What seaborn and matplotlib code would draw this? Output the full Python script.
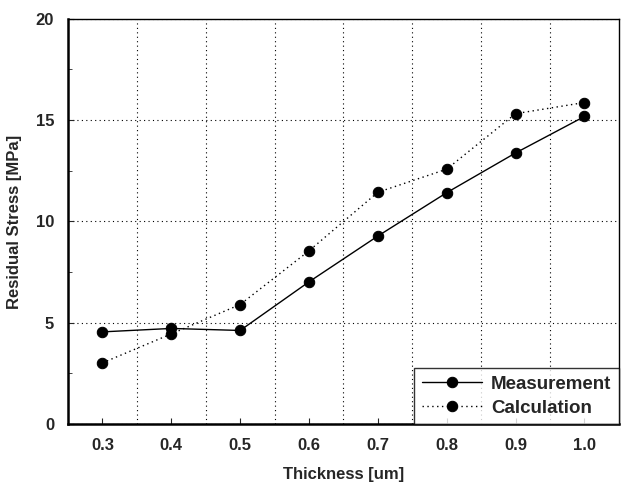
import numpy as np
import pandas as pd
import matplotlib
matplotlib.use("Agg")
import matplotlib.pyplot as plt
from matplotlib.ticker import MultipleLocator, FixedLocator
import seaborn as sns

thickness = [0.3, 0.4, 0.5, 0.6, 0.7, 0.8, 0.9, 1.0]
measurement = [4.55, 4.72, 4.62, 7.02, 9.28, 11.42, 13.38, 15.18]
calculation = [3.02, 4.45, 5.9, 8.55, 11.44, 12.58, 15.32, 15.87]
series_names = ["Measurement", "Calculation"]

df = pd.DataFrame({
    "Thickness": thickness * 2,
    "Stress": measurement + calculation,
    "Series": [series_names[0]] * len(thickness) + [series_names[1]] * len(thickness),
})

sns.set_style("ticks")
plt.rcParams["font.family"] = ["Liberation Sans", "DejaVu Sans"]
plt.rcParams["font.weight"] = "bold"

fig = plt.figure(figsize=(6.21, 4.83), dpi=100)
ax = fig.add_axes([0.1095, 0.122, 0.887, 0.839])

sns.lineplot(
    data=df, x="Thickness", y="Stress", style="Series", hue="Series",
    palette=["black", "black"], dashes={"Measurement": "", "Calculation": (1, 2.5)},
    markers={"Measurement": "o", "Calculation": "o"}, markersize=7.5,
    markeredgecolor="black", linewidth=1.0, ax=ax,
)

ax.set_xlim(0.25, 1.05)
ax.set_ylim(0, 20)
ax.xaxis.set_major_locator(FixedLocator(thickness))
ax.xaxis.set_minor_locator(FixedLocator([0.35, 0.45, 0.55, 0.65, 0.75, 0.85, 0.95]))
ax.yaxis.set_major_locator(MultipleLocator(5))
ax.yaxis.set_minor_locator(MultipleLocator(2.5))
ax.set_xticklabels([f"{t:.1f}" for t in thickness])

ax.grid(which="minor", axis="x", color="black", linestyle=(0, (1, 3)), linewidth=0.8)
ax.grid(which="major", axis="y", color="black", linestyle=(0, (1, 3)), linewidth=0.8)
ax.tick_params(axis="x", which="minor", length=0)
ax.tick_params(axis="both", which="major", direction="in", length=4, labelsize=12, pad=10)
ax.tick_params(axis="y", which="minor", direction="in", length=3)
for lab in ax.get_xticklabels() + ax.get_yticklabels():
    lab.set_fontweight("bold")

for side in ["left", "bottom"]:
    ax.spines[side].set_linewidth(1.8)
for side in ["top", "right"]:
    ax.spines[side].set_linewidth(1.0)
for sp in ax.spines.values():
    sp.set_color("black")

ax.set_xlabel("Thickness [um]", fontsize=12, fontweight="bold", labelpad=10)
ax.set_ylabel("Residual Stress [MPa]", fontsize=12, fontweight="bold", labelpad=10)

leg = ax.legend(
    title=None, loc="lower right", frameon=True, fancybox=False,
    edgecolor="black", borderaxespad=0, prop={"weight": "bold", "size": 13.5},
    handlelength=3.2, borderpad=0.4, labelspacing=0.35, handletextpad=0.5,
)
leg.get_frame().set_linewidth(1.0)

fig.savefig("out.png", dpi=100)
